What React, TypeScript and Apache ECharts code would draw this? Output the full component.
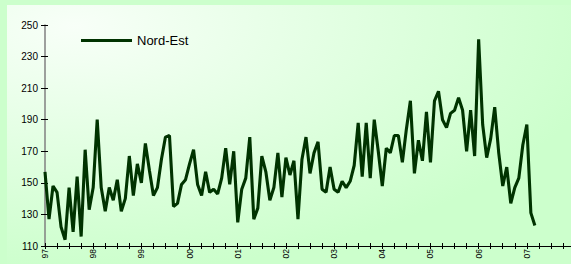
import React, { useEffect, useRef } from "react";
import * as echarts from "echarts";

const years = ["97", "98", "99", "00", "01", "02", "03", "04", "05", "06", "07"];
const monthNums = ["01", "02", "03", "04", "05", "06", "07", "08", "09", "10", "11", "12"];
const categories = years.flatMap((y) => monthNums.map((m) => `${y}-${m}`));

const seriesName = "Nord-Est";
const nordEst = [
  157, 127, 148, 144, 122, 114, 147, 119, 154, 116, 171, 133, 147,
  190, 147, 132, 147, 139, 152, 132, 140, 167, 142, 162, 150,
  175, 158, 142, 147, 165, 179, 180, 135, 137, 149, 152, 162,
  171, 149, 142, 157, 144, 146, 143, 153, 172, 149, 170, 125,
  146, 153, 179, 127, 134, 167, 157, 139, 147, 169, 141, 166,
  155, 164, 127, 165, 179, 156, 169, 176, 146, 144, 160, 146,
  144, 151, 147, 151, 161, 188, 154, 188, 153, 190, 170, 148,
  172, 169, 180, 180, 163, 184, 202, 156, 177, 164, 195, 163,
  202, 208, 190, 185, 194, 196, 204, 196, 170, 196, 167, 241,
  187, 166, 178, 198, 169, 148, 160, 137, 147, 153, 174, 187, 131, 123,
];

const yMin = 110;
const yMax = 250;
const yStep = 20;

export default function App() {
  const ref = useRef<HTMLDivElement>(null);
  useEffect(() => {
    document.body.style.margin = "0";
    if (!ref.current) return;
    const chart = echarts.init(ref.current, null, { renderer: "svg" });
    const font = "'Liberation Sans', Arial, sans-serif";
    const xBase = {
      type: "category" as const,
      data: categories,
      boundaryGap: false,
      position: "bottom" as const,
    };
    const yBase = {
      type: "value" as const,
      min: yMin,
      max: yMax,
      interval: yStep,
      position: "left" as const,
      splitLine: { show: false },
    };
    chart.setOption({
      animation: false,
      backgroundColor: "#ccffcc",
      graphic: {
        elements: [
          {
            type: "rect",
            z: -100,
            silent: true,
            shape: { x: 7, y: 5, width: 564, height: 259 },
            style: {
              fill: {
                type: "radial",
                x: 0.12,
                y: 0.08,
                r: 0.95,
                colorStops: [
                  { offset: 0, color: "#f8fff8" },
                  { offset: 1, color: "#ccffcc" },
                ],
              },
            },
          },
        ],
      },
      legend: {
        data: [seriesName],
        icon: "rect",
        itemWidth: 51,
        itemHeight: 3,
        left: 81,
        top: 34,
        padding: 0,
        itemGap: 5,
        textStyle: { fontSize: 13, color: "#000", fontFamily: font },
      },
      grid: { left: 45, top: 25, width: 534.5, height: 221 },
      xAxis: [
        {
          ...xBase,
          axisLine: { show: true, lineStyle: { color: "#000", width: 1 } },
          axisTick: { show: true, interval: 2, length: 3, lineStyle: { color: "#000" } },
          axisLabel: {
            show: true,
            interval: 11,
            rotate: 90,
            fontSize: 8.5,
            margin: 3,
            color: "#000",
            fontFamily: font,
            formatter: (v: string) => v.split("-")[0],
          },
        },
        {
          ...xBase,
          axisLine: { show: false },
          axisTick: { show: true, inside: true, interval: 2, length: 3, lineStyle: { color: "#000" } },
          axisLabel: { show: false },
        },
      ],
      yAxis: [
        {
          ...yBase,
          axisLine: { show: true, lineStyle: { color: "#808080", width: 1.5 } },
          axisTick: { show: true, length: 4, lineStyle: { color: "#000" } },
          axisLabel: { fontSize: 10, color: "#000", margin: 7, fontFamily: font },
        },
        {
          ...yBase,
          axisLine: { show: false },
          axisTick: { show: true, inside: true, length: 3, lineStyle: { color: "#000" } },
          axisLabel: { show: false },
        },
      ],
      series: [
        {
          name: seriesName,
          type: "line",
          data: nordEst,
          xAxisIndex: 0,
          yAxisIndex: 0,
          showSymbol: false,
          symbol: "none",
          lineStyle: { color: "#003300", width: 3.1 },
          itemStyle: { color: "#003300" },
        },
      ],
    });
    return () => chart.dispose();
  }, []);
  return <div ref={ref} style={{ width: 571, height: 264 }} />;
}
